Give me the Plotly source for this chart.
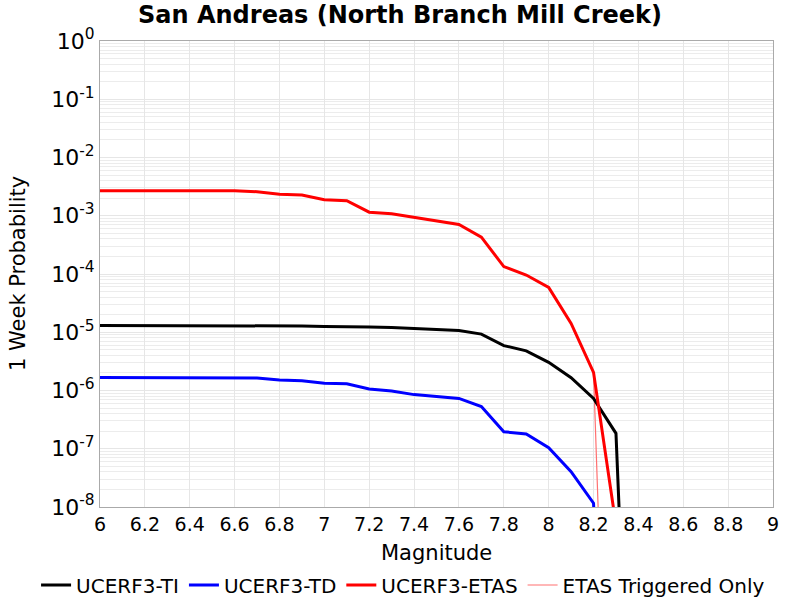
import plotly.graph_objects as go

# ---- data ----
magnitudes = [6.0, 6.1, 6.2, 6.3, 6.4, 6.5, 6.6, 6.7, 6.8, 6.9, 7.0, 7.1, 7.2,
              7.3, 7.4, 7.5, 7.6, 7.7, 7.8, 7.9, 8.0, 8.1, 8.2, 8.3, 8.4]

ucerf3_ti = [1.31e-5, 1.31e-5, 1.31e-5, 1.31e-5, 1.31e-5, 1.31e-5, 1.31e-5, 1.31e-5,
             1.29e-5, 1.28e-5, 1.26e-5, 1.26e-5, 1.23e-5, 1.21e-5, 1.17e-5, 1.11e-5,
             1.07e-5, 9.3e-6, 5.9e-6, 4.8e-6, 3.05e-6, 1.66e-6, 7.3e-7, 1.84e-7, 1e-16]

ucerf3_td = [1.68e-6, 1.68e-6, 1.68e-6, 1.68e-6, 1.68e-6, 1.68e-6, 1.68e-6, 1.64e-6,
             1.51e-6, 1.47e-6, 1.33e-6, 1.31e-6, 1.06e-6, 9.8e-7, 8.5e-7, 7.9e-7,
             7.3e-7, 5.3e-7, 1.96e-7, 1.79e-7, 1.04e-7, 4.04e-8, 1.16e-8, 1e-16, 1e-16]

ucerf3_etas = [2.69e-3, 2.69e-3, 2.69e-3, 2.69e-3, 2.69e-3, 2.69e-3, 2.69e-3, 2.59e-3,
               2.33e-3, 2.27e-3, 1.89e-3, 1.81e-3, 1.15e-3, 1.08e-3, 9.4e-4, 8.2e-4,
               7.1e-4, 4.3e-4, 1.34e-4, 9.6e-5, 5.9e-5, 1.42e-5, 2.05e-6, 4.9e-9, 1e-16]

etas_triggered = [2.69e-3, 2.69e-3, 2.69e-3, 2.69e-3, 2.69e-3, 2.69e-3, 2.69e-3, 2.59e-3,
                  2.33e-3, 2.27e-3, 1.89e-3, 1.81e-3, 1.15e-3, 1.08e-3, 9.4e-4, 8.2e-4,
                  7.1e-4, 4.3e-4, 1.34e-4, 9.6e-5, 5.9e-5, 1.42e-5, 2.05e-6, 1e-17, 1e-17]

x_ticks = [6, 6.2, 6.4, 6.6, 6.8, 7, 7.2, 7.4, 7.6, 7.8, 8, 8.2, 8.4, 8.6, 8.8, 9]
y_exponents = [0, -1, -2, -3, -4, -5, -6, -7, -8]

title = "San Andreas (North Branch Mill Creek)"
x_title = "Magnitude"
y_title = "1 Week Probability"
font_family = "DejaVu Sans, Verdana, sans-serif"
grid_color = "#e6e6e6"

y_tickvals = [10.0 ** e for e in y_exponents]
y_ticktext = ["10<sup>%s</sup>" % (str(e) if e >= 0 else "-%d" % abs(e)) for e in y_exponents]
minor_vals = [k * 10.0 ** e for e in range(-8, 0) for k in range(2, 10)]

fig = go.Figure()
fig.add_trace(go.Scatter(x=magnitudes, y=etas_triggered, mode="lines",
                         name="ETAS Triggered Only", legendrank=4,
                         line=dict(color="#ff7070", width=1.2)))
fig.add_trace(go.Scatter(x=magnitudes, y=ucerf3_ti, mode="lines",
                         name="UCERF3-TI", legendrank=1,
                         line=dict(color="#000000", width=3)))
fig.add_trace(go.Scatter(x=magnitudes, y=ucerf3_td, mode="lines",
                         name="UCERF3-TD", legendrank=2,
                         line=dict(color="#0000ff", width=3)))
fig.add_trace(go.Scatter(x=magnitudes, y=ucerf3_etas, mode="lines",
                         name="UCERF3-ETAS", legendrank=3,
                         line=dict(color="#ff0000", width=3)))

fig.update_layout(
    width=800, height=600,
    margin=dict(l=100, r=27, t=41, b=93, autoexpand=False),
    paper_bgcolor="white", plot_bgcolor="white",
    font=dict(family=font_family, color="black"),
    title=dict(text="<b>%s</b>" % title, x=0.5, xanchor="center",
               y=1 - 15 / 600, yanchor="middle",
               font=dict(size=24, family=font_family, color="black")),
    showlegend=True,
    legend=dict(orientation="h", x=-0.095, xanchor="left",
                y=-0.1674, yanchor="middle",
                font=dict(size=20), traceorder="normal",
                itemwidth=30, tracegroupgap=0),
    xaxis=dict(range=[6, 9], tickmode="array", tickvals=x_ticks,
               ticktext=[("%g" % v) for v in x_ticks],
               showgrid=True, gridcolor=grid_color, gridwidth=1,
               showline=True, linecolor="#aaaaaa", linewidth=1, mirror=True,
               ticks="", tickfont=dict(size=19), zeroline=False),
    yaxis=dict(type="log", range=[-8, 0], tickmode="array",
               tickvals=y_tickvals, ticktext=y_ticktext,
               showgrid=True, gridcolor=grid_color, gridwidth=1,
               minor=dict(tickmode="array", tickvals=minor_vals,
                          showgrid=True, gridcolor="#ececec", gridwidth=1, ticks=""),
               showline=True, linecolor="#aaaaaa", linewidth=1, mirror=True,
               ticks="", tickfont=dict(size=22), zeroline=False),
    annotations=[
        dict(text=x_title, xref="paper", yref="paper", x=0.5, y=-0.0987,
             xanchor="center", yanchor="middle", showarrow=False,
             font=dict(size=21)),
        dict(text=y_title, xref="paper", yref="paper", x=-0.1218, y=0.5,
             xanchor="center", yanchor="middle", showarrow=False,
             textangle=-90, font=dict(size=21)),
    ],
)

fig.write_html("out.html")
